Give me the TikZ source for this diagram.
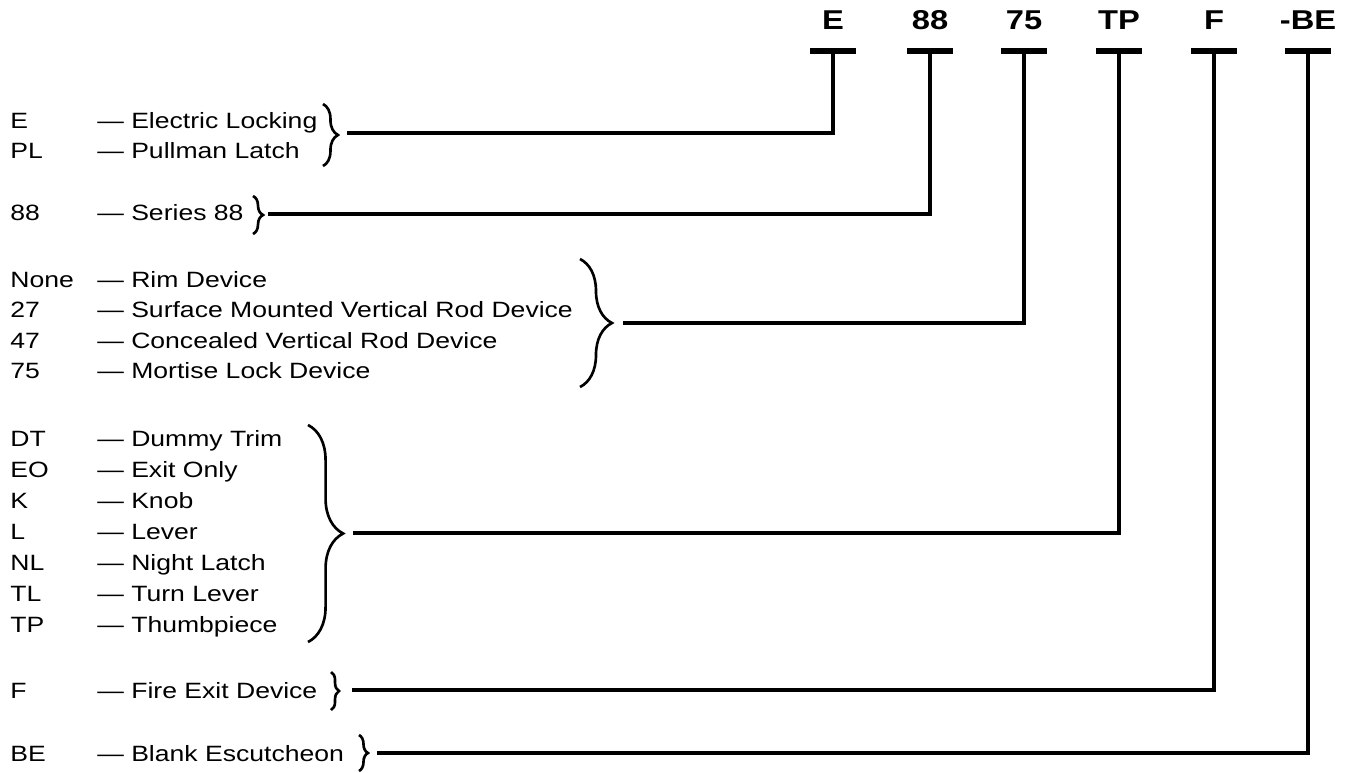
\documentclass[tikz,border=0pt]{standalone}
\usepackage{fontspec}
\setmainfont{Liberation Sans}[FakeStretch=1.2]
\usepackage{tikz}
\usetikzlibrary{positioning,decorations.pathreplacing}

\begin{document}
\begin{tikzpicture}[
  x=0.02cm, y=-0.02cm,
  font=\fontsize{12.6}{14}\selectfont,
  code/.style={anchor=base west, inner sep=0pt},
  desc/.style={anchor=base west, inner sep=0pt},
  head/.style={anchor=base, inner sep=0pt, font=\bfseries\fontsize{15.5}{18}\selectfont},
  tbar/.style={fill=black, inner sep=0pt, minimum width=26.2pt, minimum height=3pt},
  grp/.style={decorate, decoration={brace, amplitude=#1}, line width=1.5pt},
  link/.style={line width=2.4pt}
]
\useasboundingbox (0,0) rectangle (1352,772);

% --- Model number heading ---
\foreach \x/\lbl/\nm in {833/E/E, 930/88/88, 1024/75/75, 1119/TP/TP, 1214/F/F, 1308/-BE/BE} {
  \node[head] (h\nm) at (\x,29.5) {\lbl};
  \node[tbar] (bar\nm) at (\x,51) {};
}

% --- Option list ---
\foreach \y/\c/\d [count=\i] in {
  128/E/Electric Locking, 158/PL/Pullman Latch,
  220/88/Series 88,
  287/None/Rim Device, 317/27/Surface Mounted Vertical Rod Device,
  348/47/Concealed Vertical Rod Device, 378/75/Mortise Lock Device,
  446/DT/Dummy Trim, 477/EO/Exit Only, 508/K/Knob, 539/L/Lever,
  570/NL/Night Latch, 601/TL/Turn Lever, 632/TP/Thumbpiece,
  698/F/Fire Exit Device,
  761/BE/Blank Escutcheon} {
  \node[code] (code\i) at (10,\y) {\c};
  \node[desc] (desc\i) at (97,\y) {— \d};
}

% --- Braces ---
\draw[grp=8.5pt] (323,104) -- (323,166);
\draw[grp=5.7pt] (253,196) -- (253,234);
\draw[grp=18.2pt] (580,259) -- (580,387);
\draw[grp=20pt] (308,425) -- (308,642);
\draw[grp=4.6pt] (331,672) -- (331,710);
\draw[grp=5.1pt] (359,735) -- (359,771);

\coordinate (tipE) at (347,133);
\coordinate (tip88) at (268,214);
\coordinate (tip75) at (623,323);
\coordinate (tipTP) at (353,533);
\coordinate (tipF) at (352,690);
\coordinate (tipBE) at (377,753);

% --- Leader lines ---
\foreach \nm in {E,88,75,TP,F,BE}
  \draw[link] (tip\nm) -| (bar\nm.center);

\end{tikzpicture}
\end{document}
